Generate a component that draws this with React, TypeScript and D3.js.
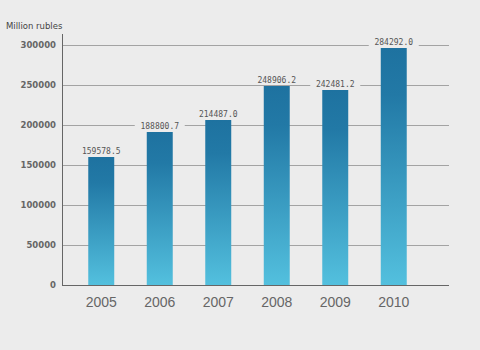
import React, { useEffect, useRef } from "react";
import * as d3 from "d3";

const years = ["2005", "2006", "2007", "2008", "2009", "2010"];
// bar heights as drawn in the picture
const barValues = [160000, 191250, 206250, 248750, 243750, 296250];
// values printed above the bars
const valueLabels = ["159578.5", "188800.7", "214487.0", "248906.2", "242481.2", "284292.0"];
const yTicks = [0, 50000, 100000, 150000, 200000, 250000, 300000];

const W = 480;
const H = 350;

const App = () => {
  const svgRef = useRef<SVGSVGElement>(null);

  useEffect(() => {
    document.body.style.margin = "0";
    document.body.style.background = "#ececec";

    const svg = d3.select(svgRef.current);
    svg.selectAll("*").remove();

    const x = d3
      .scaleBand()
      .domain(years)
      .range([72, 423])
      .paddingInner(0.556)
      .paddingOuter(0.278);

    const y = d3.scaleLinear().domain([0, 300000]).range([285, 45]);

    svg.append("rect").attr("width", W).attr("height", H).attr("fill", "#ececec");

    // bar gradient
    const grad = svg
      .append("defs")
      .append("linearGradient")
      .attr("id", "barGrad")
      .attr("x1", 0)
      .attr("y1", 0)
      .attr("x2", 0)
      .attr("y2", 1);
    grad.append("stop").attr("offset", "0%").attr("stop-color", "#1e72a0");
    grad.append("stop").attr("offset", "20%").attr("stop-color", "#2279a6");
    grad.append("stop").attr("offset", "100%").attr("stop-color", "#53c0de");

    // gridlines
    svg
      .append("g")
      .selectAll("line")
      .data(yTicks.filter((d) => d > 0))
      .enter()
      .append("line")
      .attr("x1", 63)
      .attr("x2", 449)
      .attr("y1", (d) => Math.round(y(d)) + 0.5)
      .attr("y2", (d) => Math.round(y(d)) + 0.5)
      .attr("stroke", "#a3a3a3")
      .attr("stroke-width", 1);

    // y tick labels
    svg
      .append("g")
      .selectAll("text")
      .data(yTicks)
      .enter()
      .append("text")
      .attr("x", 56)
      .attr("y", (d) => y(d))
      .attr("dy", "0.35em")
      .attr("text-anchor", "end")
      .style("font-family", "DejaVu Sans, sans-serif")
      .style("font-weight", "bold")
      .style("font-size", "8.5px")
      .style("fill", "#666")
      .text((d) => d);

    svg
      .append("text")
      .attr("x", 6)
      .attr("y", 28.5)
      .style("font-family", "DejaVu Sans, sans-serif")
      .style("font-size", "8.5px")
      .style("fill", "#444")
      .text("Million rubles");

    // bars
    svg
      .append("g")
      .selectAll("rect")
      .data(years)
      .enter()
      .append("rect")
      .attr("x", (d) => x(d))
      .attr("y", (d, i) => y(barValues[i]))
      .attr("width", x.bandwidth())
      .attr("height", (d, i) => y(0) - y(barValues[i]))
      .attr("fill", "url(#barGrad)");

    // value labels with background boxes
    const lab = svg
      .append("g")
      .selectAll("g")
      .data(years)
      .enter()
      .append("g")
      .attr(
        "transform",
        (d, i) => `translate(${x(d) + x.bandwidth() / 2},${y(barValues[i]) - 3.5})`
      );

    lab
      .append("rect")
      .attr("x", -25)
      .attr("y", -8)
      .attr("width", 50)
      .attr("height", 10)
      .attr("fill", "#ececec");

    lab
      .append("text")
      .attr("text-anchor", "middle")
      .style("font-family", "DejaVu Sans Mono, monospace")
      .style("font-size", "8px")
      .style("fill", "#555")
      .text((d, i) => valueLabels[i]);

    // axes
    svg
      .append("line")
      .attr("x1", 62.5)
      .attr("x2", 62.5)
      .attr("y1", 34)
      .attr("y2", 285.5)
      .attr("stroke", "#666");
    svg
      .append("line")
      .attr("x1", 62)
      .attr("x2", 449)
      .attr("y1", 285.5)
      .attr("y2", 285.5)
      .attr("stroke", "#666");

    // x labels
    svg
      .append("g")
      .selectAll("text")
      .data(years)
      .enter()
      .append("text")
      .attr("x", (d) => x(d) + x.bandwidth() / 2)
      .attr("y", 307)
      .attr("text-anchor", "middle")
      .style("font-family", "Liberation Sans, Arial, sans-serif")
      .style("font-size", "14px")
      .style("fill", "#666")
      .text((d) => d);
  }, []);

  return <svg ref={svgRef} width={W} height={H} style={{ display: "block" }} />;
};

export default App;
